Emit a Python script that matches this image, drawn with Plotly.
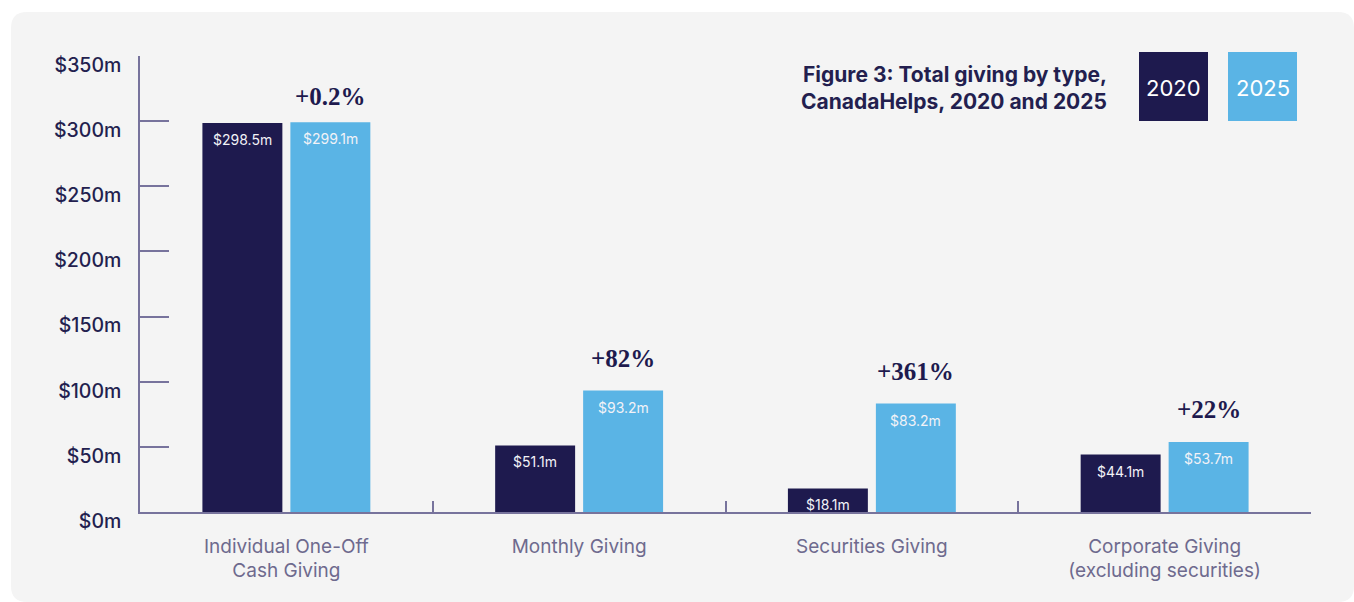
import plotly.graph_objects as go

categories = ["Individual One-Off<br>Cash Giving", "Monthly Giving", "Securities Giving",
              "Corporate Giving<br>(excluding securities)"]
values_2020 = [298.5, 51.1, 18.1, 44.1]
values_2025 = [299.1, 93.2, 83.2, 53.7]
change_labels = ["+0.2%", "+82%", "+361%", "+22%"]
change_shift = [10, 17, 17, 17]
series_names = ["2020", "2025"]
y_ticks = [0, 50, 100, 150, 200, 250, 300, 350]
y_tick_text = ["$%dm" % v for v in y_ticks]

NAVY = "#1e1a4e"
BLUE = "#5ab4e5"
AXIS = "#77739c"
W, H = 1354, 602
ML, MR, MT, MB = 140, 43, 56, 90
PW, PH = W - ML - MR, H - MT - MB


def px(x):
    return (x - ML) / PW


def py(y):
    return (H - MB - y) / PH


fig = go.Figure()
for name, vals, col in [(series_names[0], values_2020, NAVY), (series_names[1], values_2025, BLUE)]:
    fig.add_trace(go.Bar(
        x=categories, y=vals, name=name, marker_color=col, marker_line_width=0,
    ))

annotations = []
# Value labels inside bar tops
for vals, sh in [(values_2020, -44), (values_2025, 44)]:
    for c, v in zip(categories, vals):
        annotations.append(dict(
            x=c, y=v, xref="x", yref="y", text="$%.1fm" % v, showarrow=False,
            xshift=sh, yshift=-6, yanchor="top",
            font=dict(family="Inter", size=14, color="#f2f2f7"),
        ))

for c, v, lab, s in zip(categories, values_2025, change_labels, change_shift):
    annotations.append(dict(
        x=c, y=v, xref="x", yref="y", text="<b>" + lab + "</b>", showarrow=False,
        xshift=44, yshift=s, yanchor="bottom",
        font=dict(family="Liberation Serif", size=25, color=NAVY),
    ))

# Title
annotations.append(dict(
    x=px(1109), y=py(88), xref="paper", yref="paper", xanchor="right", yanchor="middle",
    align="right", showarrow=False,
    text="<b>Figure 3: Total giving by type,<br>CanadaHelps, 2020 and 2025</b>",
    font=dict(family="Inter", size=21, color="#231f4f"),
))
# Legend labels
for cx, name in [(1173.5, series_names[0]), (1262.5, series_names[1])]:
    annotations.append(dict(
        x=px(cx), y=py(88), xref="paper", yref="paper", xanchor="center", yanchor="middle",
        showarrow=False, text=name, font=dict(family="Inter", size=22, color="white"),
    ))

shapes = []
# Rounded background panel
x0, x1, y0, y1, r = 11, 1354, 12, 602, 16
path = (f"M {px(x0+r)},{py(y0)} L {px(x1-r)},{py(y0)} Q {px(x1)},{py(y0)} {px(x1)},{py(y0+r)} "
        f"L {px(x1)},{py(y1-r)} Q {px(x1)},{py(y1)} {px(x1-r)},{py(y1)} "
        f"L {px(x0+r)},{py(y1)} Q {px(x0)},{py(y1)} {px(x0)},{py(y1-r)} "
        f"L {px(x0)},{py(y0+r)} Q {px(x0)},{py(y0)} {px(x0+r)},{py(y0)} Z")
shapes.append(dict(type="path", path=path, xref="paper", yref="paper",
                   fillcolor="#f4f4f4", line_width=0, layer="below"))
# Legend boxes
for bx, col in [(1139, NAVY), (1228, BLUE)]:
    shapes.append(dict(type="rect", xref="paper", yref="paper",
                       x0=px(bx), x1=px(bx + 69), y0=py(121), y1=py(52),
                       fillcolor=col, line_width=0, layer="above"))

fig.update_layout(
    width=W, height=H, margin=dict(l=ML, r=MR, t=MT, b=MB),
    paper_bgcolor="white", plot_bgcolor="rgba(0,0,0,0)",
    barmode="group", bargap=0.399, bargroupgap=0.091,
    showlegend=False, annotations=annotations, shapes=shapes,
    xaxis=dict(
        type="category", showgrid=False, showline=True, linecolor=AXIS, linewidth=1.5,
        ticks="inside", ticklen=11, tickcolor=AXIS, tickwidth=1.5, tickson="boundaries",
        tickfont=dict(family="Inter", size=19, color="#6e6a8e"),
        ticklabelstandoff=16,
    ),
    yaxis=dict(
        range=[0, 350], tickvals=y_ticks, ticktext=y_tick_text,
        showgrid=False, zeroline=False, showline=True, linecolor=AXIS, linewidth=1.5,
        ticks="inside", ticklen=29, tickcolor=AXIS, tickwidth=1.5,
        tickfont=dict(family="Inter", size=19.5, color="#231f4f", weight=500),
        ticklabelstandoff=13, ticklabelshift=9,
    ),
)

fig.write_html("out.html")
